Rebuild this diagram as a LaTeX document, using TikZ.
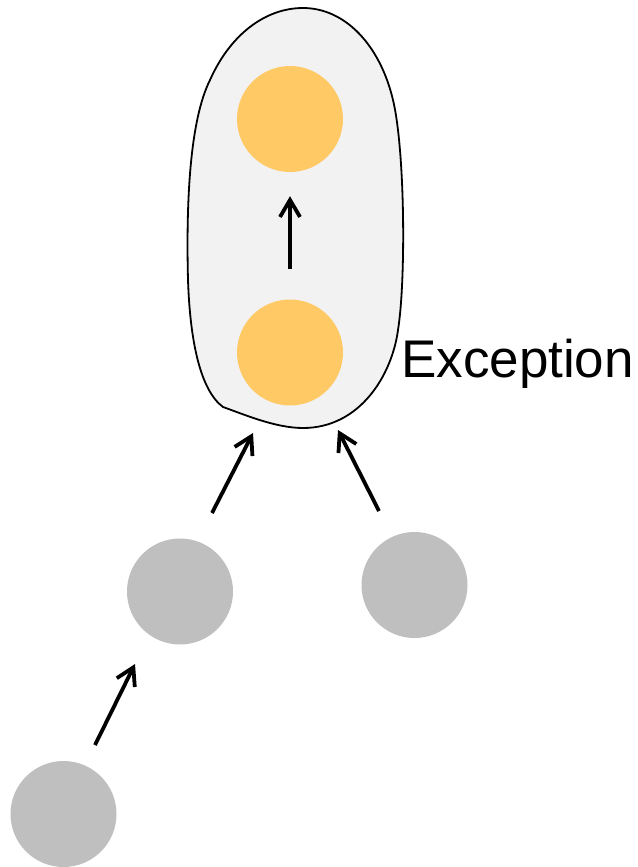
\documentclass[tikz,border=0pt]{standalone}
\usepackage{fontspec}
\setmainfont{Liberation Sans}
\usetikzlibrary{arrows.meta}
\definecolor{orangec}{HTML}{FFCA66}
\definecolor{grayc}{HTML}{BFBFBF}
\definecolor{blobc}{HTML}{F2F2F2}
\begin{document}
\begin{tikzpicture}[x=1pt,y=-1pt,
  ball/.style={circle,minimum size=106pt,inner sep=0pt,draw=none},
  hot/.style={ball,fill=orangec},
  cold/.style={ball,fill=grayc},
  link/.style={line width=3.8pt,-{Straight Barb[length=17pt,width=20pt]}},
  blob/.style={fill=blobc,draw=black,line width=1.8pt}]
\useasboundingbox (0,0) rectangle (637,867);
\draw[blob] (303,8) .. controls (345,8) and (380,45) .. (393,100)
  .. controls (405,150) and (406,280) .. (398,330)
  .. controls (392,375) and (360,428) .. (303,428)
  .. controls (275,428) and (243,414) .. (223,407)
  .. controls (200,390) and (190,340) .. (188,280)
  .. controls (186,200) and (190,120) .. (210,80)
  .. controls (230,35) and (265,8) .. (303,8) -- cycle;
\node[hot] (up) at (290,119) {};
\node[hot] (lo) at (290,352.5) {};
\node[cold] (g1) at (180,591.5) {};
\node[cold] (g2) at (414.5,585) {};
\node[cold] (g3) at (63.5,814) {};
\node[anchor=base west,inner sep=0pt,font=\fontsize{53}{60}\selectfont] (exc) at (401,377) {Exception};
\coordinate (a1s) at (212,513);
\coordinate (a1e) at (253,433);
\coordinate (a2s) at (379,511);
\coordinate (a2e) at (338,430);
\coordinate (a3s) at (95,745);
\coordinate (a3e) at (135,664);
\draw[link,shorten <=30.5pt,shorten >=24pt] (lo) -- (up);
\draw[link] (a1s) -- (a1e);
\draw[link] (a2s) -- (a2e);
\draw[link] (a3s) -- (a3e);
\end{tikzpicture}
\end{document}
